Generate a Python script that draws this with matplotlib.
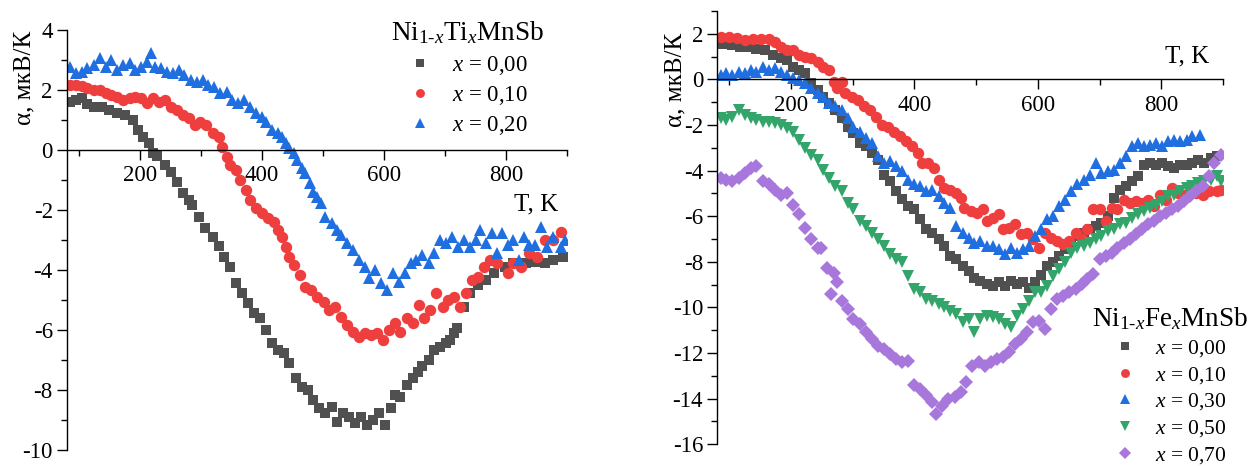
import numpy as np
import matplotlib
matplotlib.use('Agg')
import matplotlib.pyplot as plt
from matplotlib.ticker import MultipleLocator

plt.rcParams['font.family'] = ['Liberation Serif', 'DejaVu Serif']
plt.rcParams['mathtext.fontset'] = 'custom'
plt.rcParams['mathtext.rm'] = 'Liberation Serif'
plt.rcParams['mathtext.it'] = 'Liberation Serif:italic'
plt.rcParams['axes.unicode_minus'] = False

# ---- Ni(1-x)Ti(x)MnSb (left panel) ----
ti_labels = ['0,00', '0,10', '0,20']

ti_T_000 = [85, 95, 105, 114, 124, 137, 150, 163, 176, 189, 196, 205, 215, 221, 228, 241, 251, 260, 270, 280,
            286, 296, 306, 319, 329, 338, 348, 358, 368, 377, 387, 397, 406, 416, 426, 436, 445, 455, 465, 475,
            484, 494, 504, 514, 523, 533, 543, 553, 562, 572, 582, 592, 601, 611, 618, 627, 637, 647, 656, 663,
            673, 682, 692, 702, 708, 715, 719, 731, 741, 754, 767, 780, 799, 812, 832, 848, 864, 877, 894]
ti_a_000 = [1.61, 1.67, 1.72, 1.55, 1.45, 1.45, 1.33, 1.22, 1.17, 1.0, 0.67, 0.44, 0.22, -0.1, -0.2, -0.5, -0.72, -1.05, -1.44, -1.67,
            -1.83, -2.22, -2.6, -2.9, -3.2, -3.55, -3.9, -4.44, -4.78, -5.1, -5.44, -5.6, -6.0, -6.44, -6.67, -6.78, -7.1, -7.6, -7.9, -8.0,
            -8.33, -8.6, -8.78, -8.55, -9.05, -8.78, -8.9, -9.1, -8.9, -9.17, -9.0, -8.78, -9.17, -8.6, -8.17, -8.22, -7.83, -7.6, -7.39, -7.2,
            -7.0, -6.67, -6.55, -6.44, -6.33, -6.1, -5.94, -5.22, -4.78, -4.5, -4.33, -4.1, -3.9, -3.78, -3.78, -3.72, -3.78, -3.67, -3.55]

ti_T_010 = [85, 95, 105, 114, 124, 134, 144, 153, 163, 173, 183, 192, 202, 212, 221, 231, 241, 251, 260, 270,
            280, 290, 299, 309, 319, 329, 335, 342, 348, 358, 364, 374, 381, 390, 400, 410, 420, 426, 433, 439,
            445, 452, 462, 471, 481, 491, 501, 510, 520, 530, 540, 549, 559, 569, 579, 588, 598, 608, 618, 627,
            637, 647, 657, 666, 676, 686, 696, 705, 715, 725, 734, 744, 754, 764, 773, 786, 803, 812, 825, 838,
            851, 864, 877, 890]
ti_a_010 = [2.17, 2.17, 2.13, 2.06, 2.0, 2.0, 1.89, 1.83, 1.78, 1.67, 1.72, 1.78, 1.72, 1.56, 1.72, 1.61, 1.67, 1.44, 1.33, 1.17,
            1.06, 0.83, 0.94, 0.83, 0.56, 0.44, 0.11, -0.22, -0.5, -0.67, -1.0, -1.33, -1.67, -1.94, -2.11, -2.28, -2.39, -2.67, -2.89, -3.22,
            -3.55, -3.83, -4.17, -4.55, -4.67, -4.89, -5.05, -5.33, -5.22, -5.55, -5.83, -6.05, -6.22, -6.11, -6.17, -6.11, -6.33, -6.0, -5.78, -6.05,
            -5.6, -5.78, -5.17, -5.6, -5.33, -4.78, -5.22, -5.0, -4.89, -5.22, -4.78, -4.33, -4.22, -3.89, -3.67, -3.78, -4.11, -3.78, -3.89, -3.44,
            -3.55, -3.0, -3.0, -2.72]

ti_T_020 = [85, 95, 105, 114, 124, 134, 144, 153, 163, 173, 183, 192, 202, 212, 218, 225, 234, 244, 254, 264,
            273, 283, 293, 303, 312, 322, 332, 342, 351, 361, 371, 381, 390, 400, 407, 416, 426, 433, 439, 445,
            452, 458, 465, 471, 478, 484, 491, 497, 504, 514, 523, 530, 540, 549, 559, 569, 575, 585, 595, 605,
            614, 624, 634, 644, 653, 663, 673, 682, 692, 702, 712, 721, 731, 741, 751, 757, 767, 777, 786, 793,
            803, 812, 822, 829, 838, 848, 858, 868, 877, 890, 897]
ti_a_020 = [2.78, 2.56, 2.61, 2.72, 2.83, 3.06, 2.78, 3.0, 2.67, 2.83, 2.89, 2.67, 2.78, 2.94, 3.22, 2.78, 2.72, 2.61, 2.56, 2.67,
            2.5, 2.33, 2.28, 2.33, 2.17, 2.11, 1.89, 1.94, 1.67, 1.56, 1.67, 1.44, 1.22, 1.11, 0.94, 0.67, 0.56, 0.44, 0.22, 0.06,
            -0.11, -0.33, -0.61, -0.78, -1.11, -1.39, -1.55, -1.78, -2.22, -2.44, -2.67, -2.83, -3.11, -3.33, -3.67, -3.89, -4.28, -4.0, -4.44, -4.67,
            -4.11, -4.39, -4.11, -3.78, -3.67, -3.5, -3.78, -3.44, -3.0, -3.11, -2.89, -3.22, -3.0, -3.22, -3.0, -2.67, -3.11, -2.78, -3.44, -2.78,
            -3.17, -3.0, -3.67, -2.89, -3.17, -3.17, -2.56, -3.22, -2.89, -3.22, -3.0]

# ---- Ni(1-x)Fe(x)MnSb (right panel) ----
fe_labels = ['0,00', '0,10', '0,30', '0,50', '0,70']

fe_T_000 = [86, 95, 105, 118, 131, 144, 158, 171, 184, 194, 203, 213, 223, 233, 243, 252, 262, 272, 282, 292,
            301, 311, 321, 331, 341, 350, 360, 370, 380, 390, 399, 409, 419, 429, 439, 448, 458, 468, 478, 488,
            497, 507, 517, 527, 537, 546, 556, 566, 576, 586, 595, 605, 615, 625, 635, 644, 654, 664, 674, 684,
            694, 703, 713, 723, 733, 743, 752, 762, 772, 782, 792, 801, 811, 821, 831, 841, 850, 860, 870, 880, 890]
fe_a_000 = [1.57, 1.57, 1.5, 1.43, 1.43, 1.35, 1.28, 1.06, 0.92, 0.84, 0.55, 0.41, 0.26, -0.17, -0.47, -0.76, -1.05, -1.34, -1.7, -2.07,
            -2.36, -2.8, -2.94, -3.23, -3.52, -4.18, -4.47, -4.9, -5.26, -5.56, -5.7, -6.14, -6.58, -6.72, -7.0, -7.3, -7.74, -7.89, -8.18, -8.4,
            -8.69, -8.84, -8.98, -9.05, -8.9, -9.05, -8.84, -8.98, -8.9, -9.13, -8.9, -8.6, -8.18, -8.03, -7.74, -7.45, -7.16, -6.87, -6.72, -6.58,
            -6.43, -6.29, -6.0, -5.2, -4.83, -4.69, -4.47, -4.25, -3.74, -3.67, -3.74, -3.67, -3.81, -3.89, -3.74, -3.74, -3.67, -3.52, -3.67, -3.45, -3.38]

fe_T_010 = [86, 99, 112, 125, 138, 151, 164, 174, 184, 194, 203, 213, 223, 233, 243, 252, 262, 269, 275, 282,
            288, 298, 308, 318, 328, 337, 347, 357, 367, 377, 386, 396, 406, 412, 422, 432, 439, 448, 458, 468,
            475, 481, 491, 501, 511, 517, 527, 537, 543, 553, 563, 573, 582, 592, 602, 612, 622, 631, 641, 651,
            661, 671, 680, 690, 700, 710, 720, 729, 739, 749, 759, 769, 778, 788, 798, 808, 818, 827, 837, 847,
            857, 867, 877, 890, 896]
fe_a_010 = [1.86, 1.86, 1.83, 1.72, 1.75, 1.75, 1.79, 1.64, 1.43, 1.28, 1.28, 1.06, 0.99, 0.92, 0.77, 0.55, 0.41, -0.1, -0.39, -0.1,
            -0.61, -0.76, -0.9, -1.19, -1.34, -1.63, -1.99, -2.07, -2.29, -2.5, -2.72, -2.94, -3.23, -3.67, -3.67, -3.89, -4.4, -4.76, -4.83, -4.98,
            -5.2, -5.63, -5.78, -5.85, -5.7, -6.22, -6.07, -5.92, -6.58, -6.51, -6.36, -6.8, -6.72, -7.0, -7.38, -6.72, -6.94, -7.09, -7.23, -7.09,
            -6.72, -7.0, -6.58, -5.7, -5.7, -6.22, -5.63, -5.7, -5.27, -5.41, -5.34, -5.41, -5.27, -5.56, -5.05, -5.27, -4.76, -4.98, -5.05, -4.9,
            -4.98, -5.05, -4.9, -4.9, -4.83]

fe_T_030 = [86, 95, 105, 115, 125, 135, 144, 154, 164, 174, 184, 194, 203, 213, 223, 233, 243, 252, 262, 272,
            282, 292, 301, 311, 321, 331, 341, 350, 360, 370, 380, 390, 399, 409, 419, 429, 439, 448, 458, 468,
            478, 488, 497, 507, 517, 527, 537, 546, 556, 566, 576, 586, 595, 605, 615, 625, 635, 644, 654, 664,
            674, 684, 694, 703, 713, 723, 733, 743, 752, 762, 772, 782, 792, 801, 811, 821, 831, 841, 850, 863]
fe_a_030 = [0.19, 0.26, 0.19, 0.33, 0.26, 0.41, 0.33, 0.55, 0.41, 0.48, 0.33, 0.19, 0.04, -0.03, -0.17, -0.39, -0.61, -0.76, -1.05, -1.19,
            -1.34, -1.7, -2.07, -2.29, -2.58, -2.8, -3.38, -3.67, -3.6, -3.81, -4.03, -4.4, -4.61, -4.69, -4.9, -4.83, -5.12, -5.41, -5.63, -6.43,
            -6.72, -6.94, -7.16, -7.09, -7.3, -7.3, -7.45, -7.67, -7.38, -7.6, -7.45, -7.3, -6.87, -6.58, -6.14, -6.0, -5.56, -5.27, -4.9, -4.61,
            -4.4, -4.18, -3.67, -4.1, -4.03, -3.96, -3.67, -3.38, -2.94, -2.8, -2.94, -2.87, -2.8, -2.94, -2.72, -2.65, -2.72, -2.65, -2.5, -2.43]

fe_T_050 = [86, 95, 105, 115, 125, 135, 144, 154, 164, 174, 184, 194, 203, 213, 223, 233, 243, 252, 262, 272,
            282, 292, 301, 311, 321, 331, 341, 350, 360, 370, 380, 390, 399, 409, 419, 429, 439, 448, 458, 468,
            478, 488, 497, 507, 517, 527, 537, 546, 556, 566, 576, 586, 595, 605, 615, 625, 635, 644, 654, 664,
            674, 684, 694, 703, 713, 723, 733, 743, 752, 762, 772, 782, 792, 801, 811, 821, 831, 841, 850, 860,
            870, 880, 890, 896]
fe_a_050 = [-1.7, -1.78, -1.63, -1.34, -1.56, -1.7, -1.78, -1.85, -1.85, -1.92, -1.99, -2.14, -2.29, -2.65, -3.01, -3.3, -3.52, -3.96, -4.32, -4.69,
            -4.9, -5.41, -5.7, -6.22, -6.43, -6.72, -7.0, -7.3, -7.67, -7.89, -8.03, -8.62, -9.2, -9.34, -9.64, -9.71, -9.85, -10.0, -10.15, -10.29,
            -10.65, -10.51, -11.09, -10.51, -10.36, -10.44, -10.51, -10.73, -10.87, -10.36, -10.07, -9.71, -9.34, -9.34, -9.05, -8.62, -8.33, -8.03, -7.6, -7.38,
            -7.3, -7.16, -7.0, -6.87, -6.65, -6.58, -6.36, -6.29, -6.07, -5.92, -5.78, -5.63, -5.49, -5.34, -5.12, -5.05, -4.9, -4.76, -4.69, -4.54,
            -4.47, -4.4, -4.25, -4.47]

fe_T_070 = [86, 95, 105, 115, 125, 135, 144, 154, 164, 174, 184, 194, 203, 213, 223, 233, 243, 249, 259, 265,
            269, 275, 282, 292, 301, 311, 321, 331, 341, 350, 360, 370, 380, 390, 399, 409, 419, 429, 435, 445,
            455, 465, 475, 484, 494, 504, 514, 524, 533, 543, 553, 563, 573, 582, 592, 602, 612, 622, 631, 641,
            651, 661, 671, 680, 690, 700, 710, 720, 729, 739, 749, 759, 769, 778, 788, 798, 808, 818, 827, 837,
            847, 857, 867, 877, 886, 896]
fe_a_070 = [-4.32, -4.4, -4.47, -4.32, -4.1, -3.89, -3.81, -4.47, -4.61, -4.83, -5.05, -4.98, -5.49, -5.92, -6.51, -7.0, -7.38, -7.38, -8.25, -9.4,
            -8.47, -8.9, -9.71, -10.07, -10.51, -10.73, -11.09, -11.38, -11.67, -11.82, -12.04, -12.26, -12.4, -12.33, -13.42, -13.57, -13.86, -14.15, -14.66, -14.3,
            -14.0, -13.93, -13.71, -13.28, -12.55, -12.4, -12.55, -12.4, -12.26, -12.18, -11.96, -11.6, -11.38, -11.09, -10.65, -10.58, -10.95, -10.07, -9.64, -9.5,
            -9.34, -9.2, -8.98, -8.76, -8.54, -7.89, -7.74, -7.6, -7.38, -7.16, -7.0, -6.8, -6.58, -6.36, -6.22, -6.0, -5.85, -5.7, -5.56, -5.34,
            -5.12, -4.9, -4.69, -4.25, -3.67, -3.3]

GRAY = '#505050'
RED = '#ef3e3e'
BLUE = '#1f6fe0'
GREEN = '#33a56a'
PURPLE = '#a877dc'

TICK_FS = 16.5


def style_axis(ax, ymin, ymax):
    ax.set_xlim(80, 900)
    ax.set_ylim(ymin, ymax)
    ax.spines['bottom'].set_position(('data', 0))
    ax.spines['top'].set_visible(False)
    ax.spines['right'].set_visible(False)
    for s in ('left', 'bottom'):
        ax.spines[s].set_linewidth(1.0)
    ax.xaxis.set_major_locator(MultipleLocator(200))
    ax.xaxis.set_minor_locator(MultipleLocator(100))
    ax.yaxis.set_major_locator(MultipleLocator(2))
    ax.yaxis.set_minor_locator(MultipleLocator(1))
    ax.tick_params(which='major', direction='out', length=7, width=1.0, labelsize=TICK_FS)
    ax.tick_params(which='minor', direction='out', length=4, width=1.0)
    ax.tick_params(axis='x', pad=4)
    ax.tick_params(axis='y', pad=3)


fig = plt.figure(figsize=(12.5, 4.66), dpi=100)
ax1 = fig.add_axes([0.0534, 0.0343, 0.4002, 0.9013])
ax2 = fig.add_axes([0.5736, 0.0466, 0.4048, 0.9300])

# left panel
ms_kw = dict(ls='none', mew=0)
ax1.plot(ti_T_000, ti_a_000, marker='s', ms=7.5, color=GRAY, label='$x$ = ' + ti_labels[0], **ms_kw)
ax1.plot(ti_T_010, ti_a_010, marker='o', ms=8.2, color=RED, label='$x$ = ' + ti_labels[1], **ms_kw)
ax1.plot(ti_T_020, ti_a_020, marker='^', ms=8.8, color=BLUE, label='$x$ = ' + ti_labels[2], **ms_kw)
style_axis(ax1, -10, 4)
ax1.text(885, -1.8, 'T, K', ha='right', va='center', fontsize=18)
ax1.text(-0.085, 0.887, 'α, мкВ/К', rotation=90, ha='center', va='center',
         fontsize=18, transform=ax1.transAxes)
ax1.legend(loc='upper center', bbox_to_anchor=(468 / 1250, 1 - 8 / 466), bbox_transform=fig.transFigure,
           frameon=False, fontsize=16.5, title=r'Ni$_{1\text{-}x}$Ti$_x$MnSb', title_fontsize=19.5,
           borderpad=0, labelspacing=0.32, handlelength=1.0, handletextpad=0.9, markerscale=0.78)

# right panel
ax2.plot(fe_T_000, fe_a_000, marker='s', ms=7.5, color=GRAY, label='$x$ = ' + fe_labels[0], **ms_kw)
ax2.plot(fe_T_010, fe_a_010, marker='o', ms=8.2, color=RED, label='$x$ = ' + fe_labels[1], **ms_kw)
ax2.plot(fe_T_030, fe_a_030, marker='^', ms=8.8, color=BLUE, label='$x$ = ' + fe_labels[2], **ms_kw)
ax2.plot(fe_T_050, fe_a_050, marker='v', ms=8.8, color=GREEN, label='$x$ = ' + fe_labels[3], **ms_kw)
ax2.plot(fe_T_070, fe_a_070, marker='D', ms=7.2, color=PURPLE, label='$x$ = ' + fe_labels[4], **ms_kw)
style_axis(ax2, -16, 3)
ax2.text(877, 1.02, 'T, K', ha='right', va='center', fontsize=18)
ax2.text(-0.083, 0.84, 'α, мкВ/К', rotation=90, ha='center', va='center',
         fontsize=18, transform=ax2.transAxes)
ax2.legend(loc='upper center', bbox_to_anchor=(1170 / 1250, 1 - 294 / 466), bbox_transform=fig.transFigure,
           frameon=False, fontsize=15.5, title=r'Ni$_{1\text{-}x}$Fe$_x$MnSb', title_fontsize=19.5,
           borderpad=0, labelspacing=0.28, handlelength=1.0, handletextpad=0.9, markerscale=0.78)

fig.savefig('out.png', dpi=100)
